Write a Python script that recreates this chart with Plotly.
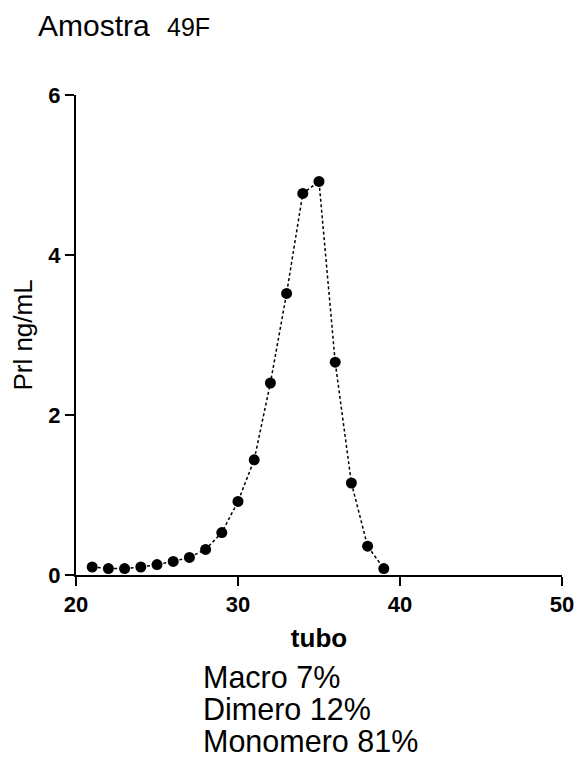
import plotly.graph_objects as go

# Prolactin elution profile by tube
tubo = [21, 22, 23, 24, 25, 26, 27, 28, 29, 30, 31, 32, 33, 34, 35, 36, 37, 38, 39]
prl = [0.10, 0.08, 0.08, 0.10, 0.13, 0.17, 0.22, 0.32, 0.53, 0.92, 1.44, 2.40,
       3.52, 4.77, 4.92, 2.66, 1.15, 0.36, 0.08]

fracoes = ["Macro 7%", "Dimero 12%", "Monomero 81%"]

FONT = "Liberation Sans, Arial, sans-serif"
W, H = 578, 758
L, R, T, B = 76, 16, 95, 183
plot_h = H - T - B
plot_w = W - L - R


def ypaper(ypix):
    return (H - B - ypix) / plot_h


def xpaper(xpix):
    return (xpix - L) / plot_w


fig = go.Figure()
fig.add_trace(go.Scatter(
    x=tubo, y=prl, mode="lines+markers",
    line=dict(color="black", width=1.5, dash="3px,2.5px"),
    marker=dict(color="black", size=11),
    cliponaxis=False, showlegend=False,
))

axis_common = dict(
    showline=True, linecolor="black", linewidth=2,
    ticks="outside", tickcolor="black", tickwidth=2, ticklen=9,
    showgrid=False, zeroline=False, automargin=False,
    tickfont=dict(family=FONT, size=22, color="black", weight="bold"),
)

fig.update_layout(
    width=W, height=H,
    margin=dict(l=L, r=R, t=T, b=B),
    paper_bgcolor="white", plot_bgcolor="white",
    xaxis=dict(range=[20, 50], tickvals=[20, 30, 40, 50], **axis_common,
               title=dict(text="<b>tubo</b>", font=dict(family=FONT, size=26, color="black"),
                          standoff=12)),
    yaxis=dict(range=[0, 6], tickvals=[0, 2, 4, 6], **axis_common,
               title=dict(text="Prl ng/mL", font=dict(family=FONT, size=26, color="black"),
                          standoff=8)),
)

annotations = [
    dict(text="Amostra", x=xpaper(36), y=ypaper(26), xanchor="left", yanchor="middle",
         font=dict(family=FONT, size=30, color="black")),
    dict(text="49F", x=xpaper(165), y=ypaper(27), xanchor="left", yanchor="middle",
         font=dict(family=FONT, size=25, color="black")),
]
for i, txt in enumerate(fracoes):
    annotations.append(dict(
        text=txt, x=xpaper(201), y=ypaper(677 + 32 * i), xanchor="left", yanchor="middle",
        font=dict(family=FONT, size=30.5, color="black"),
    ))
for a in annotations:
    a.update(xref="paper", yref="paper", showarrow=False)
fig.update_layout(annotations=annotations)

fig.write_html("out.html")
